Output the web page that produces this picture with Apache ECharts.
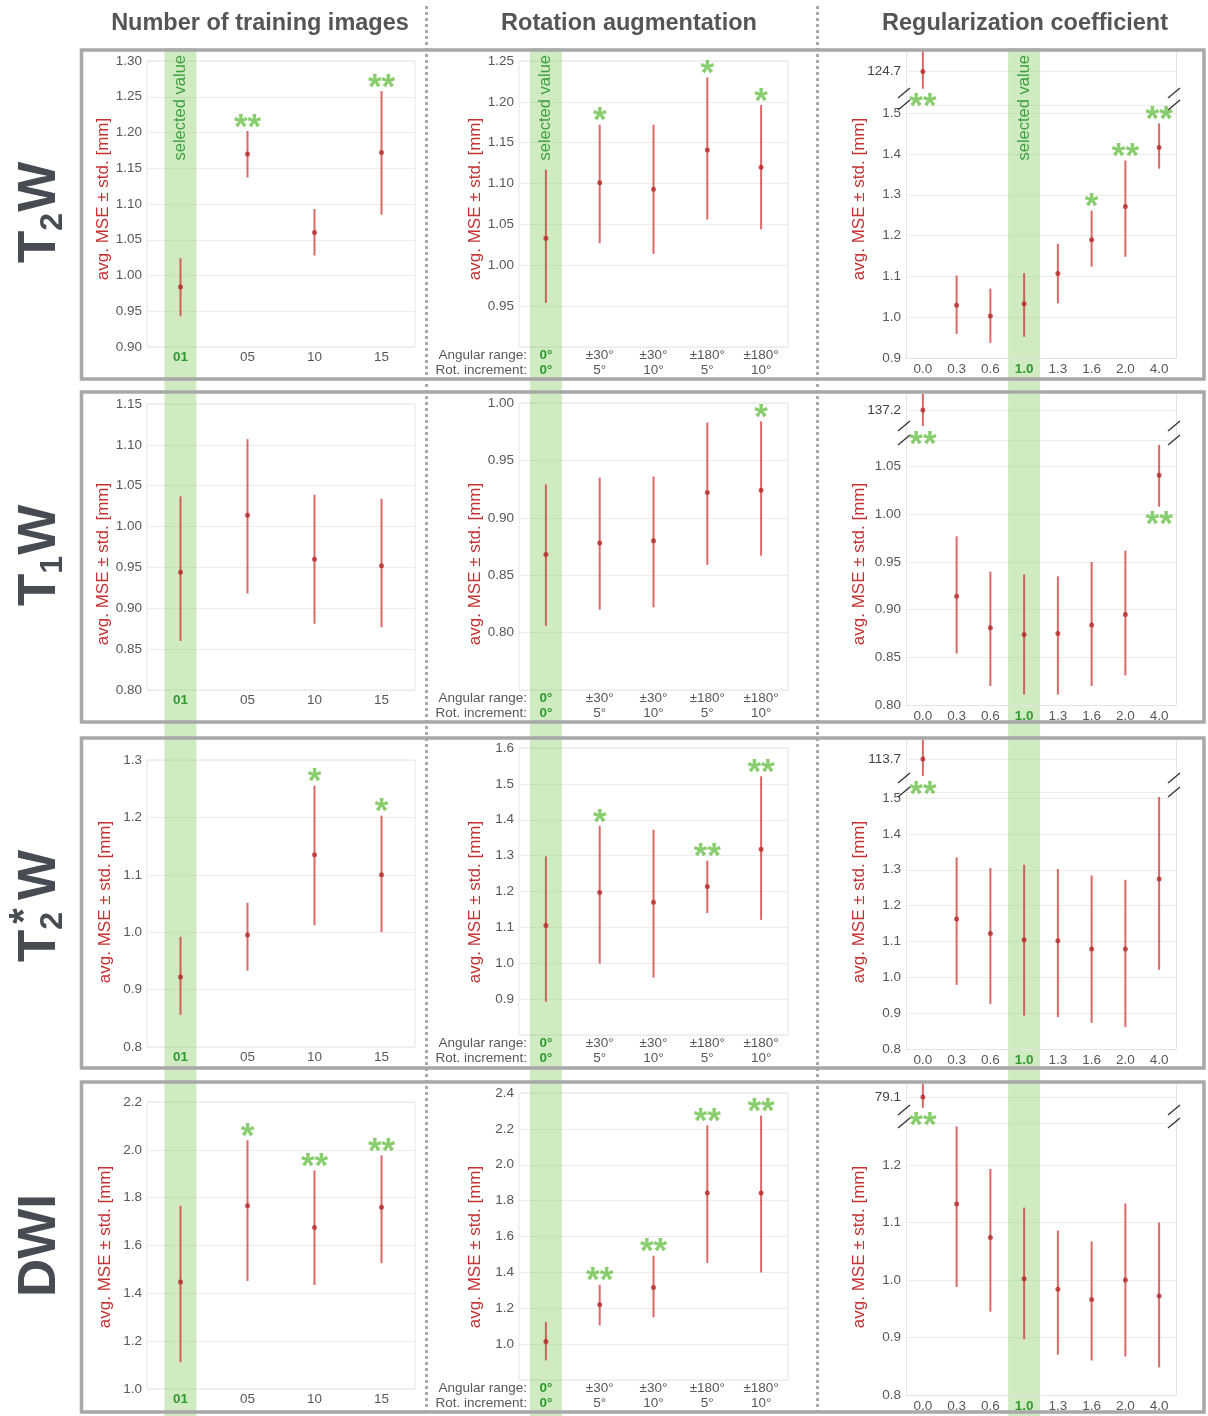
<!DOCTYPE html>
<html>
<head>
<meta charset="utf-8">
<script src="https://cdn.jsdelivr.net/npm/echarts@6/dist/echarts.min.js"></script>
<style>
  html, body { margin: 0; padding: 0; background: #fff; }
  #chart { width: 1208px; height: 1416px; }
</style>
</head>
<body>
<div id="chart"></div>
<script>
// ---------- data ----------
var trainCats = ['01', '05', '10', '15'];
var angularRange = ['0°', '±30°', '±30°', '±180°', '±180°'];
var rotIncrement = ['0°', '5°', '10°', '5°', '10°'];
var regCats = ['0.0', '0.3', '0.6', '1.0', '1.3', '1.6', '2.0', '4.0'];
var colTitles = ['Number of training images', 'Rotation augmentation', 'Regularization coefficient'];
var rowTitles = [
  { base: 'T', sub: '2', sup: '', tail: 'W' },
  { base: 'T', sub: '1', sup: '', tail: 'W' },
  { base: 'T', sub: '2', sup: '*', tail: 'W' },
  { base: 'DWI', sub: '', sup: '', tail: '' }
];

// T2W
var t2wTrainMean = [0.984, 1.170, 1.060, 1.172];
var t2wTrainLow = [0.943, 1.137, 1.028, 1.085];
var t2wTrainHigh = [1.024, 1.202, 1.093, 1.258];
var t2wTrainStars = ['', '**', '', '**'];
var t2wTrainTicks = ['0.90', '0.95', '1.00', '1.05', '1.10', '1.15', '1.20', '1.25', '1.30'];

var t2wRotMean = [1.033, 1.101, 1.093, 1.141, 1.120];
var t2wRotLow = [0.954, 1.027, 1.014, 1.056, 1.044];
var t2wRotHigh = [1.117, 1.172, 1.172, 1.230, 1.196];
var t2wRotStars = ['', '*', '', '*', '*'];
var t2wRotTicks = ['0.90', '0.95', '1.00', '1.05', '1.10', '1.15', '1.20', '1.25'];

var t2wRegMean = [124.7, 1.029, 1.003, 1.033, 1.107, 1.190, 1.271, 1.416];
var t2wRegLow = [122.3, 0.959, 0.937, 0.952, 1.034, 1.124, 1.148, 1.364];
var t2wRegHigh = [127.7, 1.102, 1.070, 1.108, 1.180, 1.261, 1.384, 1.475];
var t2wRegStars = ['**', '', '', '', '', '*', '**', '**'];
var t2wRegTicks = ['0.9', '1.0', '1.1', '1.2', '1.3', '1.4', '1.5'];

// T1W
var t1wTrainMean = [0.944, 1.014, 0.960, 0.952];
var t1wTrainLow = [0.860, 0.918, 0.881, 0.877];
var t1wTrainHigh = [1.037, 1.107, 1.039, 1.034];
var t1wTrainStars = ['', '', '', ''];
var t1wTrainTicks = ['0.80', '0.85', '0.90', '0.95', '1.00', '1.05', '1.10', '1.15'];

var t1wRotMean = [0.868, 0.878, 0.880, 0.922, 0.924];
var t1wRotLow = [0.806, 0.820, 0.822, 0.859, 0.867];
var t1wRotHigh = [0.929, 0.935, 0.936, 0.983, 0.984];
var t1wRotStars = ['', '', '', '', '*'];
var t1wRotTicks = ['0.75', '0.80', '0.85', '0.90', '0.95', '1.00'];

var t1wRegMean = [137.2, 0.914, 0.881, 0.874, 0.875, 0.884, 0.895, 1.041];
var t1wRegLow = [134.2, 0.854, 0.820, 0.811, 0.811, 0.820, 0.831, 1.008];
var t1wRegHigh = [140.2, 0.977, 0.940, 0.937, 0.935, 0.950, 0.962, 1.073];
var t1wRegStars = ['**', '', '', '', '', '', '', '**'];
var t1wRegTicks = ['0.80', '0.85', '0.90', '0.95', '1.00', '1.05'];

// T2*W
var t2sTrainMean = [0.922, 0.995, 1.135, 1.100];
var t2sTrainLow = [0.856, 0.933, 1.012, 1.000];
var t2sTrainHigh = [0.992, 1.051, 1.255, 1.203];
var t2sTrainStars = ['', '', '*', '*'];
var t2sTrainTicks = ['0.8', '0.9', '1.0', '1.1', '1.2', '1.3'];

var t2sRotMean = [1.105, 1.197, 1.170, 1.214, 1.318];
var t2sRotLow = [0.893, 0.999, 0.960, 1.140, 1.121];
var t2sRotHigh = [1.298, 1.383, 1.372, 1.286, 1.521];
var t2sRotStars = ['', '*', '', '**', '**'];
var t2sRotTicks = ['0.8', '0.9', '1.0', '1.1', '1.2', '1.3', '1.4', '1.5', '1.6'];

var t2sRegMean = [113.7, 1.163, 1.122, 1.105, 1.102, 1.079, 1.079, 1.274];
var t2sRegLow = [111.0, 0.979, 0.926, 0.893, 0.889, 0.873, 0.861, 1.021];
var t2sRegHigh = [116.7, 1.335, 1.305, 1.314, 1.302, 1.284, 1.272, 1.503];
var t2sRegStars = ['**', '', '', '', '', '', '', ''];
var t2sRegTicks = ['0.8', '0.9', '1.0', '1.1', '1.2', '1.3', '1.4', '1.5'];

// DWI
var dwiTrainMean = [1.447, 1.766, 1.675, 1.760];
var dwiTrainLow = [1.112, 1.452, 1.435, 1.526];
var dwiTrainHigh = [1.766, 2.040, 1.914, 1.977];
var dwiTrainStars = ['', '*', '**', '**'];
var dwiTrainTicks = ['1.0', '1.2', '1.4', '1.6', '1.8', '2.0', '2.2'];

var dwiRotMean = [1.015, 1.219, 1.316, 1.842, 1.842];
var dwiRotLow = [0.909, 1.104, 1.149, 1.452, 1.400];
var dwiRotHigh = [1.123, 1.331, 1.493, 2.220, 2.274];
var dwiRotStars = ['', '**', '**', '**', '**'];
var dwiRotTicks = ['0.8', '1.0', '1.2', '1.4', '1.6', '1.8', '2.0', '2.2', '2.4'];

var dwiRegMean = [79.1, 1.132, 1.074, 1.002, 0.984, 0.966, 1.000, 0.972];
var dwiRegLow = [76.6, 0.988, 0.945, 0.897, 0.870, 0.860, 0.867, 0.848];
var dwiRegHigh = [82.1, 1.267, 1.193, 1.126, 1.086, 1.067, 1.133, 1.100];
var dwiRegStars = ['**', '', '', '', '', '', '', ''];
var dwiRegTicks = ['0.8', '0.9', '1.0', '1.1', '1.2'];

// upper end of the lower (main) part of the broken axes
var regAxisTop = [1.52, 1.078, 1.517, 1.273];

// ---------- layout / style ----------
var FONT = '"Liberation Sans", Arial, sans-serif';
var GRAY_TXT = '#585858';
var RED_TXT = '#c43232';
var SEL_GREEN = '#2f9b2f';
var STAR_GREEN = '#6cc24a';
var BAR_COLOR = 'rgba(206, 46, 46, 0.72)';
var DOT_COLOR = 'rgba(176, 28, 28, 0.9)';
var BAND_COLOR = 'rgba(150, 208, 120, 0.45)';
var FRAME = '#e4e4e4';

var rotCats = angularRange.map(function (a, i) { return a + '\n' + rotIncrement[i]; });

var colLayout = [
  { left: 147, right: 415, nameGap: 33, labelMargin: 3, cats: trainCats, sel: 0, titleX: 260 },
  { left: 519, right: 788, nameGap: 35, labelMargin: 1, cats: rotCats, sel: 0, titleX: 629, hideMin: true },
  { left: 906, right: 1176, nameGap: 38, labelMargin: 4, cats: regCats, sel: 3, titleX: 1025, hideMax: true }
];

var rowLayout = [
  { plot: [[61, 347], [61, 347], [105, 358]], top: [50, 93], box: [50, 379], labelY: 263, nameY: 199 },
  { plot: [[404, 690], [403, 690], [440, 705]], top: [394, 426], box: [392, 722], labelY: 606, nameY: 564 },
  { plot: [[760, 1047], [748, 1035], [792, 1049]], top: [740, 778], box: [738, 1068], labelY: 962, nameY: 902 },
  { plot: [[1102, 1389], [1093, 1380], [1123, 1395]], top: [1084, 1110], box: [1082, 1412], labelY: 1297, nameY: 1247 }
];

var panels = [
  { row: 0, col: 0, mean: t2wTrainMean, low: t2wTrainLow, high: t2wTrainHigh, stars: t2wTrainStars, ticks: t2wTrainTicks },
  { row: 0, col: 1, mean: t2wRotMean, low: t2wRotLow, high: t2wRotHigh, stars: t2wRotStars, ticks: t2wRotTicks },
  { row: 0, col: 2, mean: t2wRegMean, low: t2wRegLow, high: t2wRegHigh, stars: t2wRegStars, ticks: t2wRegTicks, below: [0] },
  { row: 1, col: 0, mean: t1wTrainMean, low: t1wTrainLow, high: t1wTrainHigh, stars: t1wTrainStars, ticks: t1wTrainTicks },
  { row: 1, col: 1, mean: t1wRotMean, low: t1wRotLow, high: t1wRotHigh, stars: t1wRotStars, ticks: t1wRotTicks },
  { row: 1, col: 2, mean: t1wRegMean, low: t1wRegLow, high: t1wRegHigh, stars: t1wRegStars, ticks: t1wRegTicks, below: [0, 7] },
  { row: 2, col: 0, mean: t2sTrainMean, low: t2sTrainLow, high: t2sTrainHigh, stars: t2sTrainStars, ticks: t2sTrainTicks },
  { row: 2, col: 1, mean: t2sRotMean, low: t2sRotLow, high: t2sRotHigh, stars: t2sRotStars, ticks: t2sRotTicks },
  { row: 2, col: 2, mean: t2sRegMean, low: t2sRegLow, high: t2sRegHigh, stars: t2sRegStars, ticks: t2sRegTicks, below: [0] },
  { row: 3, col: 0, mean: dwiTrainMean, low: dwiTrainLow, high: dwiTrainHigh, stars: dwiTrainStars, ticks: dwiTrainTicks },
  { row: 3, col: 1, mean: dwiRotMean, low: dwiRotLow, high: dwiRotHigh, stars: dwiRotStars, ticks: dwiRotTicks },
  { row: 3, col: 2, mean: dwiRegMean, low: dwiRegLow, high: dwiRegHigh, stars: dwiRegStars, ticks: dwiRegTicks, below: [0] }
];

// ---------- build ----------
var grids = [], xAxes = [], yAxes = [], series = [];
var colXAxis = [];

function renderErrorBar(params, api) {
  var x = api.value(0);
  var a = api.coord([x, api.value(1)]);
  var b = api.coord([x, api.value(2)]);
  return {
    type: 'line',
    shape: { x1: a[0], y1: a[1], x2: b[0], y2: b[1] },
    style: { stroke: BAR_COLOR, lineWidth: 2 }
  };
}

function xLabelFormatter(sel) {
  return function (value, index) {
    if (index !== sel) return value;
    return value.split('\n').map(function (s) { return '{s|' + s + '}'; }).join('\n');
  };
}

function addSeries(gi, idx, p, gridLineAt) {
  // error bars
  series.push({
    type: 'custom', xAxisIndex: gi, yAxisIndex: gi, silent: true, clip: true, z: 2,
    renderItem: renderErrorBar, encode: { x: 0, y: [1, 2] },
    data: idx.map(function (i) { return [i, p.low[i], p.high[i]]; })
  });
  // means
  var meanSeries = {
    type: 'scatter', xAxisIndex: gi, yAxisIndex: gi, silent: true, z: 3,
    symbolSize: 5, itemStyle: { color: DOT_COLOR },
    data: idx.map(function (i) { return [i, p.mean[i]]; })
  };
  if (gridLineAt != null) {
    meanSeries.markLine = { silent: true, symbol: 'none', label: { show: false }, z: 1,
      lineStyle: { color: '#ececec', width: 1, type: 'solid' }, data: [{ yAxis: gridLineAt }] };
  }
  series.push(meanSeries);
  // significance stars
  var below = p.below || [];
  var up = [], down = [];
  idx.forEach(function (i) {
    if (!p.stars[i]) return;
    if (below.indexOf(i) >= 0) down.push([i, p.low[i], p.stars[i]]);
    else up.push([i, p.high[i], p.stars[i]]);
  });
  var starLabel = function (pos, off) {
    return {
      show: true, position: pos, distance: 0, offset: [0, off],
      formatter: function (d) { return d.value[2]; },
      fontSize: 35, fontWeight: 'bold', color: STAR_GREEN, fontFamily: FONT
    };
  };
  if (up.length) series.push({
    type: 'scatter', xAxisIndex: gi, yAxisIndex: gi, silent: true, z: 4,
    symbolSize: 1, itemStyle: { color: 'rgba(0,0,0,0)' }, data: up, label: starLabel('top', 15)
  });
  if (down.length) series.push({
    type: 'scatter', xAxisIndex: gi, yAxisIndex: gi, silent: true, z: 4,
    symbolSize: 1, itemStyle: { color: 'rgba(0,0,0,0)' }, data: down, label: starLabel('bottom', 1)
  });
}

panels.forEach(function (p) {
  var col = colLayout[p.col], row = rowLayout[p.row];
  var box = row.plot[p.col];
  var broken = p.col === 2;
  var dec = p.ticks[0].split('.')[1].length;
  var tmin = parseFloat(p.ticks[0]);
  var interval = +(parseFloat(p.ticks[1]) - tmin).toFixed(4);
  var tmax = broken ? regAxisTop[p.row] : parseFloat(p.ticks[p.ticks.length - 1]);
  var namePad = [0, 0, 0, 0];
  var shift = (box[0] + box[1]) / 2 - row.nameY;
  if (shift > 0) namePad = [0, 0, 0, 2 * shift]; else namePad = [0, -2 * shift, 0, 0];

  var gi = grids.length;
  if (p.row === 0) colXAxis[p.col] = gi;
  grids.push({ left: col.left, width: col.right - col.left, top: box[0], height: box[1] - box[0],
    show: !broken, borderColor: FRAME, borderWidth: 1, containLabel: false, outerBoundsMode: 'none' });
  xAxes.push({
    type: 'category', gridIndex: gi, data: col.cats, boundaryGap: true, z: 3,
    axisLine: { show: broken, lineStyle: { color: FRAME, width: 1 } }, axisTick: { show: false }, splitLine: { show: false },
    axisLabel: {
      interval: 0, margin: col.labelMargin, fontSize: 13.5, lineHeight: 15, color: GRAY_TXT, fontFamily: FONT,
      formatter: xLabelFormatter(col.sel),
      rich: { s: { color: SEL_GREEN, fontWeight: 'bold', fontSize: 13.5, lineHeight: 15, fontFamily: FONT } }
    }
  });
  yAxes.push({
    type: 'value', gridIndex: gi, min: tmin, max: tmax, interval: interval,
    name: 'avg. MSE ± std. [mm]', nameLocation: 'middle', nameGap: col.nameGap, nameRotate: 90,
    nameTextStyle: { color: RED_TXT, fontSize: 17, fontFamily: FONT, padding: namePad },
    axisLine: { show: false }, axisTick: { show: false },
    axisLabel: {
      margin: 5, fontSize: 13.5, color: GRAY_TXT, fontFamily: FONT,
      showMinLabel: !col.hideMin, showMaxLabel: !col.hideMax,
      formatter: function (v) { return v.toFixed(dec); }
    },
    splitLine: { lineStyle: { color: '#ececec', width: 1 } }
  });

  var idx = [], outIdx = [];
  p.mean.forEach(function (m, i) { (m > tmax ? outIdx : idx).push(i); });
  addSeries(gi, idx, p, null);

  // upper part of the broken axis holding the out-of-range value
  if (outIdx.length) {
    var oi = outIdx[0], om = p.mean[oi];
    var ti = grids.length;
    grids.push({ left: col.left, width: col.right - col.left, top: row.top[0], height: row.top[1] - row.top[0],
      show: false, containLabel: false, outerBoundsMode: 'none' });
    xAxes.push({ type: 'category', gridIndex: ti, data: col.cats, boundaryGap: true,
      axisLine: { show: false }, axisTick: { show: false }, axisLabel: { show: false }, splitLine: { show: false } });
    yAxes.push({
      type: 'value', gridIndex: ti, min: om - 3, max: om + 3,
      axisLine: { show: false },
      axisTick: { show: false, customValues: [om] },
      axisLabel: { customValues: [om], margin: 5, fontSize: 13.5, color: '#444', fontFamily: FONT,
        formatter: function (v) { return v.toFixed(1); } },
      splitLine: { show: false }
    });
    addSeries(ti, outIdx, p, om);
  }
});

var chart = echarts.init(document.getElementById('chart'));
chart.setOption({
  animation: false,
  backgroundColor: '#ffffff',
  grid: grids, xAxis: xAxes, yAxis: yAxes, series: series
});

// ---------- decorations ----------
var measureCtx = document.createElement('canvas').getContext('2d');
function textWidth(t, size) {
  measureCtx.font = 'bold ' + size + 'px "Liberation Sans"';
  return measureCtx.measureText(t).width;
}

var graphics = [];

// selected-value bands, placed through the category axes
colLayout.forEach(function (col, c) {
  var cx = chart.convertToPixel({ xAxisIndex: colXAxis[c] }, col.cats[col.sel]);
  graphics.push({ type: 'rect', z: 1, silent: true,
    shape: { x: cx - 16, y: 48, width: 32, height: 1370 }, style: { fill: BAND_COLOR } });
  graphics.push({ type: 'text', z: 5, silent: true, x: cx, y: 55, rotation: Math.PI / 2,
    style: { text: 'selected value', fontSize: 16.5, fontFamily: FONT, fill: '#3da23d', align: 'right', verticalAlign: 'middle' } });
  graphics.push({ type: 'text', z: 5, silent: true, x: col.titleX, y: 24,
    style: { text: colTitles[c], fontSize: 23.5, fontWeight: 'bold', fontFamily: FONT, fill: '#555', align: 'center', verticalAlign: 'middle' } });
});

// dotted column separators
[426.5, 817.5].forEach(function (x) {
  graphics.push({ type: 'line', z: 6, silent: true, shape: { x1: x, y1: 6, x2: x, y2: 1416 },
    style: { stroke: '#a9a9a9', lineWidth: 3, lineDash: [3, 3] } });
});

rowLayout.forEach(function (row, r) {
  // row frame
  graphics.push({ type: 'rect', z: 7, silent: true,
    shape: { x: 81.5, y: row.box[0], width: 1122.5, height: row.box[1] - row.box[0] },
    style: { fill: 'none', stroke: '#a8a8a8', lineWidth: 3.5 } });

  // side frame lines of the broken-axis panel
  var c2 = colLayout[2];
  [c2.left, c2.right].forEach(function (x) {
    graphics.push({ type: 'line', z: 0, silent: true,
      shape: { x1: x + 0.5, y1: row.top[0], x2: x + 0.5, y2: row.plot[2][1] },
      style: { stroke: FRAME, lineWidth: 1 } });
  });

  // rotated row title with sub/superscripts
  var t = rowTitles[r], big = 53, small = 32, kids = [], x = 0;
  var piece = function (txt, px, py, size) {
    kids.push({ type: 'text', x: px, y: py,
      style: { text: txt, fontSize: size, fontWeight: 'bold', fontFamily: FONT, fill: '#474c52', align: 'left', verticalAlign: 'middle' } });
  };
  piece(t.base, x, 0, big); x += textWidth(t.base, big);
  if (t.sub || t.sup) {
    var adv = textWidth(t.sub, small) + 1;
    if (t.sub) piece(t.sub, x, 13, small);
    if (t.sup) {
      piece(t.sup, x + 6, -14, small + 8);
      adv = Math.max(adv, 6 + textWidth(t.sup, small + 8)) + 8;
    }
    x += adv;
  }
  if (t.tail) piece(t.tail, x, 0, big);
  graphics.push({ type: 'group', z: 5, silent: true, x: 40, y: row.labelY, rotation: Math.PI / 2, children: kids });

  // two-line x labels of the rotation column
  var bottom = row.plot[1][1];
  ['Angular range:', 'Rot. increment:'].forEach(function (s, k) {
    graphics.push({ type: 'text', z: 5, silent: true, x: 527, y: bottom + 8 + k * 15,
      style: { text: s, fontSize: 13.5, fontFamily: FONT, fill: GRAY_TXT, align: 'right', verticalAlign: 'middle' } });
  });

  // axis-break marks
  var lx = c2.left - 2, rx = c2.right - 2;
  [row.top[1], row.plot[2][0]].forEach(function (y) {
    [lx, rx].forEach(function (x) {
      graphics.push({ type: 'line', z: 6, silent: true, shape: { x1: x - 6, y1: y + 5, x2: x + 6, y2: y - 5 },
        style: { stroke: '#333', lineWidth: 1.3 } });
    });
  });
});

chart.setOption({ graphic: graphics });
</script>
</body>
</html>
